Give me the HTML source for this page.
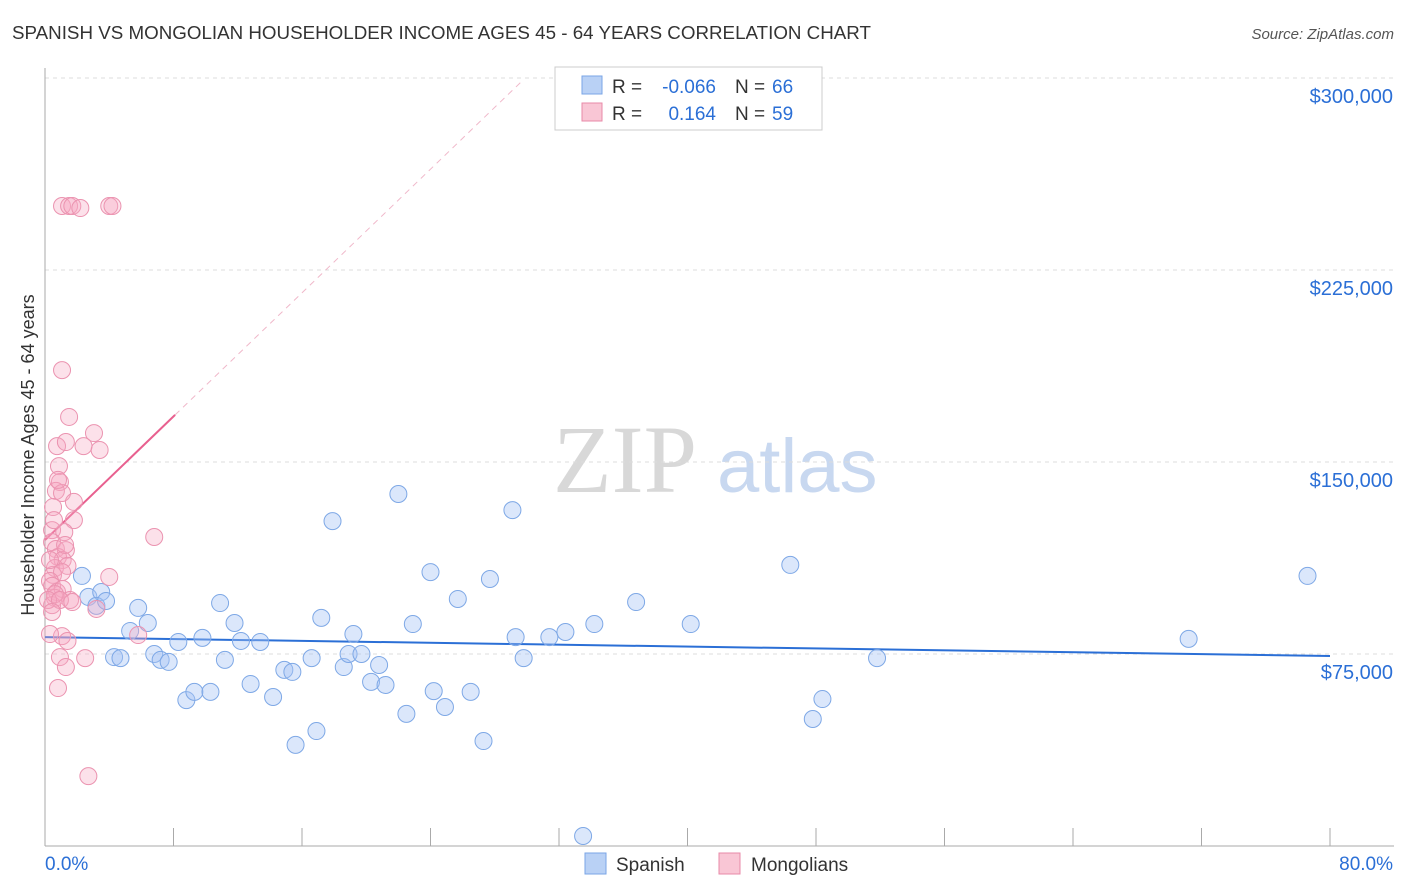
<!DOCTYPE html>
<html><head><meta charset="utf-8">
<style>
body{margin:0;background:#fff;font-family:"Liberation Sans",sans-serif;}
svg{display:block}
</style></head>
<body>
<svg id="chart" width="1406" height="892">
<text x="12" y="39" font-size="18" fill="#333" textLength="859" lengthAdjust="spacingAndGlyphs">SPANISH VS MONGOLIAN HOUSEHOLDER INCOME AGES 45 - 64 YEARS CORRELATION CHART</text>
<text x="1394" y="39" font-size="15" fill="#555" font-style="italic" text-anchor="end">Source: ZipAtlas.com</text>
<g>
<text x="553" y="492" font-size="96" fill="#d8d8d8" font-family="Liberation Serif,serif">ZIP</text>
<text x="717" y="492" font-size="76" fill="#c8d8f0">atlas</text>
</g>
<g id="grid"></g>
<g id="axes"></g>
<g id="trends"></g>
<g id="pts"></g>
<text transform="translate(34,455) rotate(-90)" font-size="18" fill="#333" text-anchor="middle">Householder Income Ages 45 - 64 years</text>
<g>
<rect x="555" y="67" width="267" height="63" fill="#fff" stroke="#ccc"/>
<rect x="582" y="76" width="20" height="18" fill="#b9d1f5" stroke="#7aa5e6"/>
<rect x="582" y="103" width="20" height="18" fill="#f9c6d5" stroke="#e88aa8"/>
<text x="612" y="93" font-size="19" fill="#333">R =</text>
<text x="716" y="93" font-size="19" fill="#2b6fd6" text-anchor="end">-0.066</text>
<text x="735" y="93" font-size="19" fill="#333">N =</text>
<text x="772" y="93" font-size="19" fill="#2b6fd6">66</text>
<text x="612" y="120" font-size="19" fill="#333">R =</text>
<text x="716" y="120" font-size="19" fill="#2b6fd6" text-anchor="end">0.164</text>
<text x="735" y="120" font-size="19" fill="#333">N =</text>
<text x="772" y="120" font-size="19" fill="#2b6fd6">59</text>
</g>
<g>
<rect x="585" y="853" width="21" height="21" fill="#b9d1f5" stroke="#7aa5e6"/>
<text x="616" y="871" font-size="19" fill="#333">Spanish</text>
<rect x="719" y="853" width="21" height="21" fill="#f9c6d5" stroke="#e88aa8"/>
<text x="751" y="871" font-size="19" fill="#333">Mongolians</text>
</g>
</svg>
<script>
const yTicks=[75000,150000,225000,300000];
const yTickLabels=["$75,000","$150,000","$225,000","$300,000"];
const xTicks=[0,8,16,24,32,40,48,56,64,72,80];
const spanishX=[2.3,2.7,3.5,3.2,3.8,4.3,4.7,5.3,5.8,6.4,6.8,7.2,7.7,8.3,8.8,9.3,9.8,10.3,10.9,11.2,11.8,12.2,12.8,13.4,14.2,14.9,15.4,15.6,16.6,16.9,17.2,17.9,18.6,18.9,19.2,19.7,20.3,20.8,21.2,22.0,22.5,22.9,24.0,24.2,24.9,25.7,26.5,27.3,27.7,29.1,29.3,29.8,31.4,32.4,33.5,34.2,36.8,40.2,46.4,47.8,48.4,51.8,71.2,78.6];
const spanishY=[105.5,97.3,99.2,93.8,95.7,73.8,73.4,84.0,93.0,87.1,75.0,72.7,71.9,79.7,57.0,60.2,81.3,60.2,94.9,72.7,87.1,80.1,63.3,79.7,58.2,68.8,68.0,39.5,73.4,44.9,89.1,126.9,69.9,75.0,82.8,75.0,64.1,70.7,62.9,137.5,51.6,86.7,107.0,60.5,54.3,96.5,60.2,41.0,104.3,131.2,81.6,73.4,81.6,83.6,3.9,86.7,95.3,86.7,109.8,49.6,57.4,73.4,80.9,105.5];
const mongolX=[1.06,1.5,1.7,2.2,4.0,4.2,1.06,1.5,3.05,0.75,1.3,3.4,2.4,0.87,0.93,0.68,1.06,1.8,0.5,1.8,0.44,6.8,1.2,0.44,0.68,1.3,0.81,1.1,0.62,1.4,0.5,1.06,4.0,0.31,0.44,0.75,1.1,0.62,1.56,0.44,3.2,5.8,1.06,1.4,0.31,0.93,2.5,1.3,0.81,2.7,0.62,0.19,0.93,1.7,0.31,0.56,1.25,0.81,0.44];
const mongolY=[250,250,250,249.2,250,250,185.9,167.6,161.3,156.2,157.8,154.7,156.2,148.4,142.2,138.7,137.9,134.4,132.4,127.3,123.4,120.7,122.6,118.7,116.0,115.6,112.9,111.7,108.6,109.4,105.9,107.0,105.1,103.5,101.6,99.2,100.4,96.9,96.1,94.1,92.6,82.4,82.0,80.1,82.8,73.8,73.4,69.9,61.7,27.3,98.4,96.1,96.1,95.3,111.7,127.3,117.6,143.0,91.4];
const spanishTrend=[81.6,74.2];      // value at 0% and 80%
const mongolTrend=[119.5,168.4,8.1]; // value at 0%, value at end, end x
const NS="http://www.w3.org/2000/svg";
const X=v=>45+v/80*1285;
const Y=v=>846-v/75000*192;
function mk(tag,attrs,parent){const e=document.createElementNS(NS,tag);for(const k in attrs)e.setAttribute(k,attrs[k]);parent.appendChild(e);return e;}
const grid=document.getElementById('grid'),axes=document.getElementById('axes'),pts=document.getElementById('pts'),tr=document.getElementById('trends');
yTicks.forEach((t,i)=>{
 const l=mk('line',{x1:45,x2:1394,y1:Y(t),y2:Y(t),stroke:'#ddd','stroke-dasharray':'4,4'},grid);
 
 
 const tx=mk('text',{x:1393,y:Y(t)+25,'font-size':20,fill:'#2b6fd6','text-anchor':'end'},axes);
 tx.textContent=yTickLabels[i];
 
 
});
const ya=mk('line',{x1:45,x2:45,y1:68,y2:846,stroke:'#aaa'},axes);


const xa=mk('line',{x1:45,x2:1394,y1:846,y2:846,stroke:'#aaa'},axes);


xTicks.forEach(t=>{
 const l=mk('line',{x1:X(t),x2:X(t),y1:828,y2:846,stroke:'#aaa'},axes);
 
 
});
const xl0=mk('text',{x:45,y:870,'font-size':19,fill:'#2b6fd6'},axes);xl0.textContent='0.0%';


const xl1=mk('text',{x:1393,y:870,'font-size':19,fill:'#2b6fd6','text-anchor':'end'},axes);xl1.textContent='80.0%';


spanishX.forEach((x,i)=>{
 const c=mk('circle',{cx:X(x),cy:Y(spanishY[i]*1000),r:8.5,fill:'rgba(164,196,244,0.4)',stroke:'#7ea8e6','stroke-width':1},pts);
 
 
});
mongolX.forEach((x,i)=>{
 const c=mk('circle',{cx:X(x),cy:Y(mongolY[i]*1000),r:8.5,fill:'rgba(246,170,196,0.35)',stroke:'#eb93b0','stroke-width':1},pts);
 
 
});
const slope=(mongolTrend[1]-mongolTrend[0])/mongolTrend[2];
const dx=29.6;
const ld=mk('line',{x1:X(mongolTrend[2]),y1:Y(mongolTrend[1]*1000),x2:X(dx),y2:Y((mongolTrend[0]+slope*dx)*1000),stroke:'#f0b8ca','stroke-dasharray':'6,5','stroke-width':1},tr);


const lp=mk('line',{x1:X(0),y1:Y(mongolTrend[0]*1000),x2:X(mongolTrend[2]),y2:Y(mongolTrend[1]*1000),stroke:'#e8608f','stroke-width':2},tr);


const lb=mk('line',{x1:X(0),y1:Y(spanishTrend[0]*1000),x2:X(80),y2:Y(spanishTrend[1]*1000),stroke:'#2b6fd6','stroke-width':2},tr);


</script>
</body></html>
